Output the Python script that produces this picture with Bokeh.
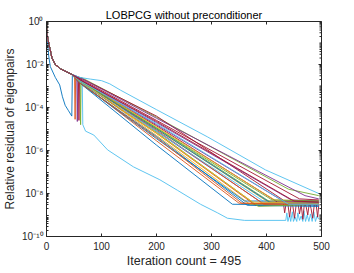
import math
from bokeh.plotting import figure
from bokeh.models import Range1d, FixedTicker, CustomJSTickFormatter
from bokeh.embed import file_html
from bokeh.resources import INLINE

# ---------------- data (residuals as log10 values) ----------------
x_ticks = [0, 100, 200, 300, 400, 500]
y_tick_exponents = [-10, -8, -6, -4, -2, 0]

# common initial descent of all eigenpairs
head_iter = [0, 1, 4, 10, 16, 25, 45]
head_log = [0.0, -0.6, -1.0, -1.7, -2.0, -2.2, -2.45]

# per eigenpair: value at iteration 60, at 200, point where the floor is reached, final value
knee_log = [-2.85, -2.80, -2.75, -2.70, -2.60, None, -2.65, -2.85, -2.80, -2.75, -2.60, -2.75, None, -2.75,
            -2.85, -2.75, -2.70, -2.70, -2.80, -2.80, -2.65, -2.75, -2.85, -2.75, -2.70, -2.75, -2.75, -2.70]
mid_log = [-5.75, -5.55, -5.30, -5.10, -4.45, None, -4.40, -5.45, -5.20, -5.00, -4.50, -4.95, None, -4.85,
           -5.35, -5.05, -4.90, -4.70, -5.15, -5.10, -4.60, -5.00, -5.40, -5.20, -4.80, -4.95, -4.75, -4.65]
floor_iter = [338, 350, 370, 390, 440, None, 430, 360, 380, 400, 470, 410, None, 420,
              365, 395, 415, 445, 385, 400, 460, 405, 355, 375, 430, 410, 440, 450]
floor_log = [-8.50, -8.45, -8.50, -8.40, -7.80, None, -8.30, -8.35, -8.55, -8.35, -8.10, -8.45, None, -8.40,
             -8.55, -8.50, -8.30, -8.30, -8.60, -8.45, -8.25, -8.40, -8.45, -8.40, -8.35, -8.30, -8.50, -8.35]
end_log = [-8.55, -8.50, -8.40, -8.45, -8.10, None, None, -8.35, -8.50, -8.40, -8.25, -8.45, None, -8.45,
           -8.60, -8.45, -8.35, -8.35, -8.50, -8.50, -8.30, -8.45, -8.50, -8.45, -8.40, -8.35, -8.50, -8.40]
last_iter = 495

# first eigenpair: early dip before re-joining the bundle
lead_iter = [0, 1, 4, 7, 16, 24, 29, 34, 40, 46, 47]
lead_log = [0.0, -0.7, -1.6, -2.1, -2.6, -2.95, -3.5, -3.9, -4.15, -4.4, -2.5]

# short downward spikes around iterations 50-65
spike_curve = [1, 3, 6, 4]
spike_iter = [51, 55, 58, 61]
spike_top = [-2.55, -2.60, -2.60, -2.60]
spike_bottom = [-4.55, -4.65, -4.60, -4.80]

# eigenpair that converges early and keeps descending (light blue, lower curve)
locked_curve = 5
locked_iter = [60, 65, 66, 71, 86, 111, 158, 206, 238, 280, 311, 329, 360, 435]
locked_log = [-2.65, -2.75, -4.8, -5.1, -5.28, -5.97, -6.76, -7.36, -7.85, -8.5, -8.9, -9.15, -9.25, -9.25]
locked_tail_iter = [437, 439, 442, 444, 447, 449, 452, 455, 457, 460, 463, 466, 468, 471, 474, 477,
                    480, 483, 486, 489, 492, 495]
locked_tail_log = [-8.9, -9.3, -9.0, -9.3, -8.85, -9.3, -9.1, -9.3, -8.9, -9.25, -9.05, -9.3, -8.8, -9.3,
                   -9.0, -9.3, -8.95, -9.3, -8.85, -9.3, -9.05, -9.2]

# slowest eigenpair (light blue, top of the bundle)
slow_curve = 12
slow_iter = [60, 80, 100, 115, 135, 200, 293, 398, 495]
slow_log = [-2.6, -2.68, -2.75, -2.9, -3.2, -4.1, -5.37, -6.9, -8.0]

# noisy stagnation of one eigenpair (dark red)
noisy_curve = 6
noisy_tail_iter = [433, 436, 439, 442, 445, 448, 451, 454, 457, 460, 463, 466, 469, 472, 475, 478,
                   481, 484, 487, 490, 493, 495]
noisy_tail_log = [-8.9, -8.4, -8.5, -9.1, -8.45, -8.6, -9.15, -8.5, -8.4, -8.95, -8.5, -9.2, -8.45, -8.6,
                  -9.0, -8.4, -8.7, -9.15, -8.5, -8.45, -9.1, -8.55]

# ---------------- styling ----------------
COLORS = ["#0072BD", "#D95319", "#EDB120", "#7E2F8E", "#77AC30", "#4DBEEE", "#A2142F"]
FONT = "Liberation Sans"
AX = "#262626"

p = figure(width=354, height=273, x_range=Range1d(0, 500), y_range=Range1d(1e-10, 1),
           y_axis_type="log", output_backend="svg", toolbar_location=None,
           min_border_left=46, min_border_right=33, min_border_top=21, min_border_bottom=37)
p.outline_line_color = AX
p.outline_line_width = 1
p.grid.visible = False
p.background_fill_color = "white"

p.title.text = "LOBPCG without preconditioner"
p.title.align = "center"
p.title.text_font = FONT
p.title.text_font_size = "11px"
p.title.text_font_style = "normal"
p.title.text_color = "#000000"
p.title.standoff = 1

# ---------------- curves ----------------
for i in range(len(knee_log)):
    pts = []
    if i == 0:
        pts += list(zip(lead_iter, lead_log))
    else:
        pts += list(zip(head_iter, head_log))
    if i == locked_curve:
        pts += list(zip(locked_iter, locked_log))
        pts += list(zip(locked_tail_iter, locked_tail_log))
    elif i == slow_curve:
        pts += list(zip(slow_iter, slow_log))
    else:
        pts.append((60, knee_log[i]))
        pts.append((200, mid_log[i]))
        pts.append((floor_iter[i], floor_log[i]))
        if i == noisy_curve:
            pts += list(zip(noisy_tail_iter, noisy_tail_log))
        else:
            pts.append((last_iter, end_log[i]))
    for c, sx, st, sb in zip(spike_curve, spike_iter, spike_top, spike_bottom):
        if c == i:
            pts += [(sx, st), (sx + 1, sb), (sx + 2, st)]
    pts.sort(key=lambda t: t[0])
    xs = [a for a, _ in pts]
    ys = [10 ** b for _, b in pts]
    p.line(xs, ys, line_color=COLORS[i % 7], line_width=0.9)

# ---------------- axes ----------------
sup_js = """
const m = {"-":"\u207b","0":"\u2070","1":"\u00b9","2":"\u00b2","3":"\u00b3","4":"\u2074",
           "5":"\u2075","6":"\u2076","7":"\u2077","8":"\u2078","9":"\u2079"};
const e = Math.round(Math.log10(tick));
return "10" + String(e).split("").map(c => m[c]).join("");
"""
y_major = [10.0 ** e for e in y_tick_exponents]
y_minor = [m * 10.0 ** k for k in range(-10, 0) for m in range(1, 10) if not (m == 1 and k % 2 == 0)]


def style(ax):
    ax.axis_line_color = AX
    ax.axis_line_width = 1
    ax.major_tick_line_color = AX
    ax.minor_tick_line_color = AX
    ax.major_tick_in = 3
    ax.major_tick_out = 0
    ax.minor_tick_in = 2
    ax.minor_tick_out = 0
    ax.major_label_text_font = FONT
    ax.major_label_text_font_size = "10px"
    ax.major_label_text_color = AX
    ax.axis_label_text_font = FONT
    ax.axis_label_text_font_style = "normal"
    ax.axis_label_text_color = AX


xa = p.xaxis[0]
xa.ticker = FixedTicker(ticks=x_ticks, minor_ticks=[])
style(xa)
xa.axis_label = "Iteration count = 495"
xa.axis_label_text_font_size = "12.5px"
xa.major_label_standoff = 5
xa.axis_label_standoff = 1

ya = p.yaxis[0]
ya.ticker = FixedTicker(ticks=y_major, minor_ticks=y_minor)
ya.formatter = CustomJSTickFormatter(code=sup_js)
style(ya)
ya.axis_label = "Relative residual of eigenpairs"
ya.axis_label_text_font_size = "12px"
ya.major_label_standoff = 3
ya.axis_label_standoff = 2

# inward ticks on the top and right edges of the box (clipped to the frame)
top_y = [1.0] * len(x_ticks)
p.scatter(x_ticks, top_y, marker="dash", angle=math.pi / 2, size=6, line_color=AX, line_width=1)
right_x_major = [500] * len(y_major)
p.scatter(right_x_major, y_major, marker="dash", size=6, line_color=AX, line_width=1)
right_x_minor = [500] * len(y_minor)
p.scatter(right_x_minor, y_minor, marker="dash", size=4, line_color=AX, line_width=1)

open("out.html", "w").write(file_html(p, INLINE))
